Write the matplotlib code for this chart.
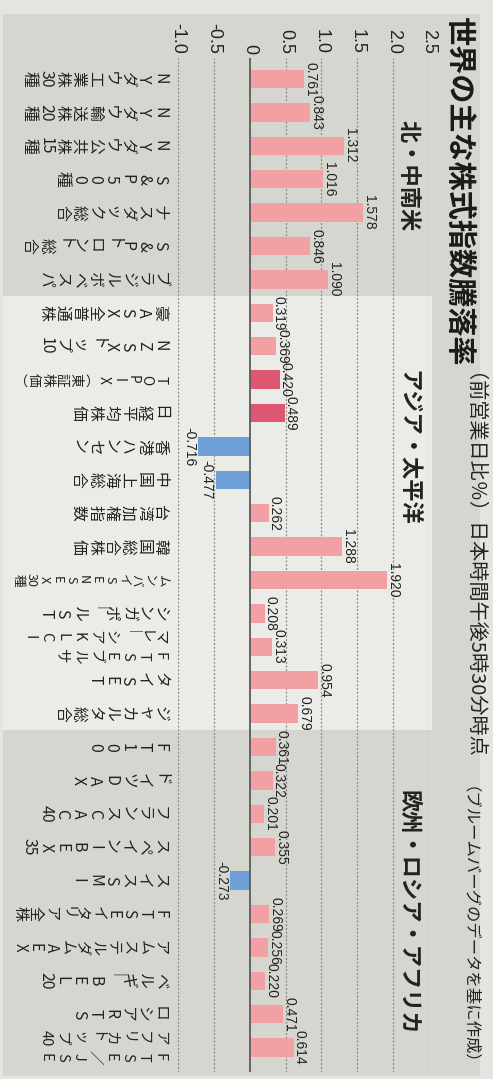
import matplotlib
matplotlib.use("Agg")
import matplotlib.pyplot as plt
from matplotlib import font_manager as fm
from matplotlib.patches import Rectangle
from matplotlib.transforms import blended_transform_factory

installed = {f.name for f in fm.fontManager.ttflist}
JP = "Noto Sans CJK JP"
NUM = "Liberation Sans Narrow" if "Liberation Sans Narrow" in installed else "Liberation Sans"
plt.rcParams["font.family"] = [JP, "DejaVu Sans"]

# ---------------- data ----------------
title = "世界の主な株式指数騰落率"
subtitle = "（前営業日比％）日本時間午後5時30分時点"
source = "（ブルームバーグのデータを基に作成）"
groups = ["北・中南米", "アジア・太平洋", "欧州・ロシア・アフリカ"]
group_sizes = [7, 13, 10]
categories = [
    "NYダウ工業株30種", "NYダウ輸送株20種", "NYダウ公共株15種", "S&P500種",
    "ナスダック総合", "S&Pトロント総合", "ブラジルボベスパ",
    "豪ASX全普通株", "NZSXトップ10", "TOPIX(東証株価)", "日経平均株価",
    "香港ハンセン", "中国上海総合", "台湾加権指数", "韓国総合株価",
    "ムンバイSENSEX30種", "シンガポールST", "FTSEブルサ\nマレーシアKLCI",
    "タイSET", "ジャカルタ総合",
    "FT100", "ドイツDAX", "フランスCAC40", "スペインIBEX35", "スイスSMI",
    "FTSEイタリア全株", "アムステルダムAEX", "ベルギーBEL20", "ロシアRTS",
    "FTSE/JSE\nアフリカトップ40",
]
values = [
    0.761, 0.843, 1.312, 1.016, 1.578, 0.846, 1.090,
    0.319, 0.369, 0.420, 0.489, -0.716, -0.477, 0.262, 1.288,
    1.920, 0.208, 0.313, 0.954, 0.679,
    0.361, 0.322, 0.201, 0.355, -0.273, 0.269, 0.256, 0.220, 0.471, 0.614,
]
emphasized = ["TOPIX(東証株価)", "日経平均株価"]
xticks = [-1.0, -0.5, 0.0, 0.5, 1.0, 1.5, 2.0, 2.5]
xtick_labels = ["-1.0", "-0.5", "0", "0.5", "1.0", "1.5", "2.0", "2.5"]

# ---------------- layout (pixels of the 493x1079 canvas) ----------------
W, H = 493, 1079
AX_L, AX_R, AX_T, AX_B = 178, 429, 58, 1072
ROW0, ROWSTEP = 79, 33.4
LABEL_RIGHT, LABEL_SPACE, PITCH, LABEL_FS = 168, 156, 16.3, 11.5
TWO_COL_FS = 10.5
header_top_px = [120, 370, 790]

PINK, RED, BLUE = "#f2a0a3", "#df5670", "#6f9fd8"
PANEL, LIGHT, PAPER = "#d6d6d0", "#ebebe8", "#e4e4e1"
INK = "#222222"


def fx(px):
    return px / W


def fy(py):
    return 1 - py / H


fig = plt.figure(figsize=(W / 100, H / 100), dpi=100)
fig.patch.set_facecolor(PAPER)
fig.patches.append(Rectangle((fx(3), fy(1076)), fx(480) - fx(3), fy(14) - fy(1076),
                             transform=fig.transFigure, facecolor=PANEL,
                             edgecolor="none", zorder=-10))

ax = fig.add_axes([fx(AX_L), fy(AX_B), (AX_R - AX_L) / W, (AX_B - AX_T) / H])
ax.set_zorder(1)
ax.patch.set_visible(False)
ax.set_xlim(xticks[0], xticks[-1])
ax.set_ylim((AX_B - ROW0) / ROWSTEP, (AX_T - ROW0) / ROWSTEP)
for s in ax.spines.values():
    s.set_visible(False)
ax.set_yticks([])


def px2x(px):
    x0, x1 = ax.get_xlim()
    return x0 + (px - AX_L) / (AX_R - AX_L) * (x1 - x0)


# lighter band behind the Asia-Pacific group
bt = blended_transform_factory(fig.transFigure, ax.transData)
start = 0
for gi, size in enumerate(group_sizes):
    if gi == 1:
        ax.add_patch(Rectangle((fx(3), start - 0.5), fx(432) - fx(3), size,
                               transform=bt, facecolor=LIGHT, edgecolor="none",
                               zorder=-1, clip_on=False))
    start += size

# grid
for t in xticks:
    if t == 0:
        ax.axvline(t, color="#5b5b5b", lw=1.3, zorder=3)
    else:
        ax.axvline(t, color="#8a8a86", lw=0.9, ls=(0, (1.6, 1.4)), zorder=0.5)

# bars
n = len(categories)
colors = [BLUE if v < 0 else (RED if c in emphasized else PINK)
          for c, v in zip(categories, values)]
ax.barh(range(n), values, height=0.55, color=colors, zorder=2)

# value labels
gap = px2x(252) - px2x(250)
for i, v in enumerate(values):
    if v >= 0:
        ax.text(v + gap, i, f"{v:.3f}", rotation=-90, rotation_mode="anchor",
                ha="center", va="baseline", fontfamily=NUM, fontsize=10, color=INK)
    else:
        ax.text(v - gap, i, f"{v:.3f}", rotation=-90, rotation_mode="anchor",
                ha="center", va="top", fontfamily=NUM, fontsize=10, color=INK)

# value axis ticks (top)
ax.xaxis.tick_top()
ax.set_xticks(xticks)
ax.set_xticklabels(xtick_labels, rotation=-90, fontfamily=NUM, fontsize=13, color=INK)
ax.tick_params(axis="x", length=0, pad=3)

# category labels as rotated vertical (tategaki) text
VERT = {"ー": "︱", "(": "︵", ")": "︶", "/": "／"}


def cells_of(s):
    out = []
    i = 0
    while i < len(s):
        if s[i].isdigit():
            j = i
            while j < len(s) and s[j].isdigit():
                j += 1
            run = s[i:j]
            out.extend([run] if len(run) == 2 else list(run))
            i = j
        else:
            out.append(VERT.get(s[i], s[i]))
            i += 1
    return out


for i, cat in enumerate(categories):
    cols = cat.split("\n")
    ncol = len(cols)
    for k, col in enumerate(cols):
        cells = cells_of(col)
        pitch = min(PITCH, LABEL_SPACE / len(cells))
        if ncol == 1:
            fs = min(LABEL_FS, pitch * 0.72 * 0.97)
            yoff = 0.0
        else:
            fs = min(TWO_COL_FS, pitch * 0.72 * 0.97)
            yoff = ((ncol - 1) / 2 - k) * 0.58
        for j, c in enumerate(cells):
            xc = LABEL_RIGHT - (j + 0.5) * pitch
            ax.text(px2x(xc), i + yoff, c, rotation=-90, rotation_mode="anchor",
                    ha="center", va="center", fontsize=fs, color=INK, clip_on=False)

# titles
fig.text(fx(444), fy(17), title, rotation=-90, ha="left", va="top",
         fontsize=21, fontweight="bold", color="#1a1a1a")
fig.text(fx(452), fy(373), subtitle, rotation=-90, ha="left", va="top",
         fontsize=14.5, color=INK)
fig.text(fx(452), fy(786), source, rotation=-90, ha="left", va="top",
         fontsize=11.8, color=INK)
for g, ytop in zip(groups, header_top_px):
    fig.text(fx(408), fy(ytop), g, rotation=-90, ha="center", va="top",
             fontsize=16, fontweight="bold", color=INK)

fig.savefig("out.png", dpi=100, facecolor=fig.get_facecolor())
